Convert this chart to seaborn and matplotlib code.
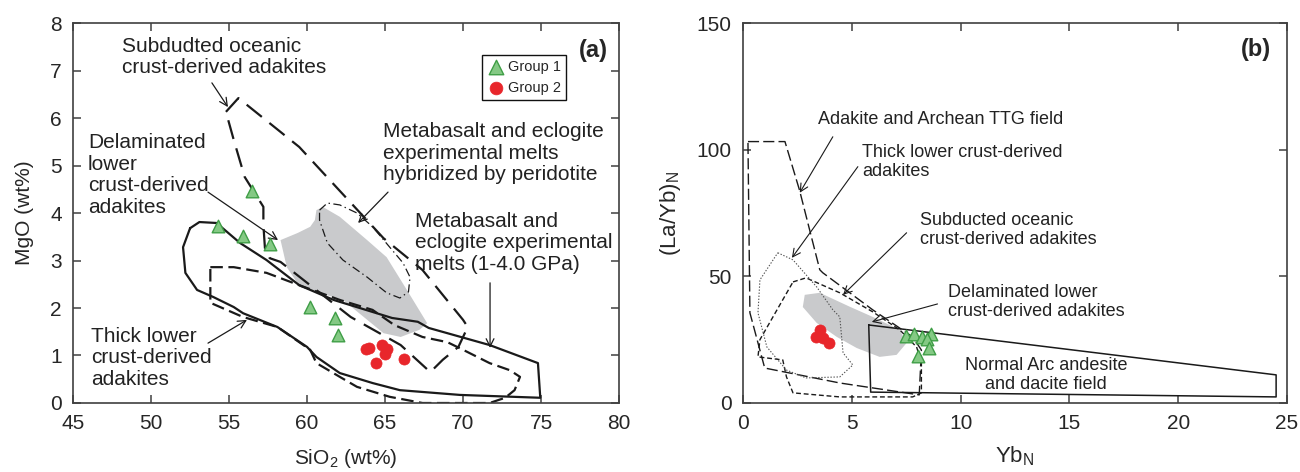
import matplotlib
matplotlib.use("Agg")
import matplotlib.pyplot as plt
import seaborn as sns
import pandas as pd

# ---------------- sample data ----------------
# (a) SiO2 vs MgO
g1_sio2 = [54.3, 56.5, 55.9, 57.6, 60.2, 61.8, 62.0]
g1_mgo = [3.72, 4.46, 3.52, 3.34, 2.03, 1.80, 1.44]
g2_sio2 = [63.8, 64.0, 64.8, 65.1, 65.0, 64.4, 66.2]
g2_mgo = [1.14, 1.16, 1.23, 1.13, 1.03, 0.84, 0.93]

# (b) YbN vs (La/Yb)N
g1_ybn = [7.5, 7.85, 8.25, 8.65, 8.45, 8.55, 8.05]
g1_layb = [26.5, 27.3, 26.1, 27.3, 25.2, 21.7, 18.6]
g2_ybn = [3.55, 3.35, 3.7, 3.95]
g2_layb = [28.9, 26.1, 25.7, 23.7]

# ---------------- discrimination fields (a) ----------------
subducted_a_x = [54.8, 55.6, 59.5, 64.9, 67.4, 70.0, 70.3, 69.7, 68.7, 67.9, 66.0,
                 62.8, 60.2, 58.3, 57.6, 57.3, 57.2, 57.2, 56.0, 55.3]
subducted_a_y = [6.13, 6.42, 5.39, 3.47, 2.80, 1.75, 1.60, 1.18, 0.91, 0.65, 1.22,
                 1.81, 2.48, 2.97, 3.05, 3.26, 3.75, 4.13, 4.76, 5.54]

thick_a_x = [53.8, 55.3, 57.4, 59.5, 62.1, 64.2, 65.6, 67.4, 69.0, 70.0, 71.7, 73.0,
             73.65, 73.3, 72.7, 71.7, 67.4, 65.3, 63.2, 62.1, 60.6, 60.2, 58.1, 55.9, 53.8]
thick_a_y = [2.86, 2.86, 2.74, 2.48, 2.17, 1.96, 1.64, 1.39, 1.28, 1.12, 0.84, 0.69,
             0.55, 0.27, 0.11, 0.0, 0.0, 0.13, 0.34, 0.55, 0.84, 1.12, 1.60, 1.81, 2.11]

melts_a_x = [52.5, 53.1, 54.2, 55.7, 57.4, 59.5, 61.7, 65.45, 67.1, 67.8, 71.7, 74.8,
             74.95, 69.8, 65.95, 64.2, 62.1, 60.6, 60.0, 58.1, 55.9, 55.3, 54.0, 52.95,
             52.2, 52.05]
melts_a_y = [3.68, 3.81, 3.79, 3.37, 3.01, 2.48, 2.17, 1.79, 1.71, 1.58, 1.22, 0.84,
             0.11, 0.17, 0.27, 0.42, 0.63, 0.97, 1.18, 1.60, 1.89, 2.02, 2.23, 2.38,
             2.74, 3.28]

hybrid_a_x = [60.8, 61.3, 62.1, 63.2, 64.2, 65.3, 66.15, 66.6, 66.5, 65.95, 65.1,
              63.85, 62.3, 61.3, 60.8]
hybrid_a_y = [4.06, 4.21, 4.17, 4.00, 3.71, 3.28, 2.95, 2.65, 2.34, 2.21, 2.32,
              2.65, 3.01, 3.37, 3.85]

delam_a_x = [58.3, 59.4, 60.2, 60.5, 60.6, 61.0, 62.1, 63.85, 65.1, 66.4, 67.7,
             67.2, 66.0, 64.9, 62.3, 59.55, 58.7]
delam_a_y = [3.43, 3.58, 3.71, 3.85, 4.06, 4.13, 3.92, 3.43, 3.07, 2.38, 1.68,
             1.54, 1.39, 1.47, 2.17, 2.44, 2.86]

# ---------------- discrimination fields (b) ----------------
ttg_b_x = [0.23, 1.93, 2.6, 3.53, 3.67, 5.96, 7.8, 8.2, 8.1, 4.45, 1.0, 0.32]
ttg_b_y = [103.2, 103.2, 84.0, 52.6, 51.4, 36.8, 26.1, 20.9, 3.2, 7.9, 13.8, 35.6]

subducted_b_x = [2.3, 2.9, 4.45, 5.96, 7.2, 7.98, 8.2, 8.2, 7.8, 4.45, 2.3, 2.0, 1.83,
                 0.69, 0.78]
subducted_b_y = [47.8, 49.4, 43.5, 36.0, 28.9, 22.1, 15.8, 4.0, 2.4, 2.4, 4.0, 10.3,
                 17.0, 18.2, 25.0]

thick_b_x = [1.6, 2.3, 3.39, 4.13, 4.45, 4.6, 5.05, 4.45, 2.9, 2.0, 1.1, 0.69, 0.78]
thick_b_y = [59.3, 56.5, 45.8, 36.8, 34.0, 19.8, 15.0, 10.3, 9.9, 13.0, 22.1, 35.6, 48.6]

delam_b_x = [2.84, 3.53, 4.91, 5.96, 7.2, 7.52, 7.06, 6.28, 5.23, 4.31, 3.39, 2.75]
delam_b_y = [42.7, 43.5, 38.0, 34.0, 28.9, 23.7, 19.0, 18.2, 21.7, 26.1, 31.6, 37.9]

arc_b_x = [5.78, 24.5, 24.5, 5.87]
arc_b_y = [30.8, 11.1, 2.4, 4.3]

# ---------------- style ----------------
sns.set_style("ticks")
plt.rcParams["font.family"] = ["Liberation Sans", "DejaVu Sans"]
plt.rcParams["mathtext.fontset"] = "custom"
plt.rcParams["mathtext.rm"] = "Liberation Sans"
plt.rcParams["lines.scale_dashes"] = False

LINE = "#1a1a1a"
SPINE = "#404040"
GREY = "#c9cacc"
TRI_FACE = "#84c984"
TRI_EDGE = "#3f9e46"
RED = "#e8262b"
TXT = "#222222"

fig = plt.figure(figsize=(13, 4.72), dpi=100)
ax_a = fig.add_axes([0.0562, 0.1462, 0.42, 0.805])
ax_b = fig.add_axes([0.5715, 0.1462, 0.4185, 0.805])


def closed(xs, ys):
    return list(xs) + [xs[0]], list(ys) + [ys[0]]


def style_axes(ax):
    for sp in ax.spines.values():
        sp.set_color(SPINE)
        sp.set_linewidth(1.2)
    ax.tick_params(direction="in", length=6, width=1.1, color=SPINE,
                   top=True, right=True, labeltop=False, labelright=False,
                   labelsize=15, pad=8)


def arrow(ax, tail, tip, lw=0.9):
    ax.annotate("", xy=tip, xytext=tail,
                arrowprops=dict(arrowstyle="->", lw=lw, color=LINE,
                                shrinkA=0, shrinkB=0, mutation_scale=14))


# ---------------- panel (a) ----------------
ax = ax_a
x, y = closed(delam_a_x, delam_a_y)
ax.fill(x, y, color=GREY, lw=0, zorder=1)
x, y = closed(subducted_a_x, subducted_a_y)
ax.plot(x, y, color=LINE, lw=1.6, dashes=(14, 7), zorder=2)
x, y = closed(thick_a_x, thick_a_y)
ax.plot(x, y, color=LINE, lw=1.6, dashes=(9, 4), zorder=2)
x, y = closed(melts_a_x, melts_a_y)
ax.plot(x, y, color=LINE, lw=1.6, zorder=2)
x, y = closed(hybrid_a_x, hybrid_a_y)
ax.plot(x, y, color=LINE, lw=0.9, dashes=(6, 2.5, 1, 2.5), zorder=2)

df1 = pd.DataFrame({"x": g1_sio2, "y": g1_mgo})
df2 = pd.DataFrame({"x": g2_sio2, "y": g2_mgo})
sns.scatterplot(data=df1, x="x", y="y", ax=ax, marker="^", s=82, color=TRI_FACE,
                edgecolor=TRI_EDGE, linewidth=1.0, label="Group 1", zorder=5)
sns.scatterplot(data=df2, x="x", y="y", ax=ax, marker="o", s=64, color=RED,
                edgecolor=RED, linewidth=0.5, label="Group 2", zorder=5)

ax.set_xlim(45, 80)
ax.set_ylim(0, 8)
ax.set_xticks(range(45, 81, 5))
ax.set_yticks(range(0, 9))
ax.set_xlabel("SiO$_\\mathregular{2}$ (wt%)", fontsize=15, labelpad=10)
ax.set_ylabel("MgO (wt%)", fontsize=15, labelpad=12)
style_axes(ax)

leg = ax.legend(loc="upper left", bbox_to_anchor=(0.749, 0.916), borderaxespad=0,
                fontsize=10.5, frameon=True, fancybox=False, framealpha=1,
                edgecolor="#111111", handletextpad=0.2, borderpad=0.35,
                labelspacing=0.45, handlelength=1.2, markerscale=1.15)
leg.get_frame().set_linewidth(1.0)

fs_a = 15
ls_a = 1.16
ax.text(48.14, 7.29, "Subdudted oceanic\ncrust-derived adakites", fontsize=fs_a,
        va="center", ha="left", linespacing=ls_a, color=TXT)
arrow(ax, (53.9, 6.74), (54.93, 6.23))
ax.text(45.96, 4.8, "Delaminated\nlower\ncrust-derived\nadakites", fontsize=fs_a,
        va="center", ha="left", linespacing=ls_a, color=TXT)
arrow(ax, (53.65, 4.44), (58.14, 3.43))
ax.text(64.87, 5.26, "Metabasalt and eclogite\nexperimental melts\nhybridized by peridotite",
        fontsize=fs_a, va="center", ha="left", linespacing=ls_a, color=TXT)
arrow(ax, (65.19, 4.44), (63.27, 3.79))
ax.text(66.92, 3.37, "Metabasalt and\neclogite experimental\nmelts (1-4.0 GPa)",
        fontsize=fs_a, va="center", ha="left", linespacing=ls_a, color=TXT)
arrow(ax, (71.73, 2.53), (71.73, 1.16))
ax.text(46.15, 0.95, "Thick lower\ncrust-derived\nadakites", fontsize=fs_a,
        va="center", ha="left", linespacing=ls_a, color=TXT)
arrow(ax, (53.65, 1.26), (56.15, 1.75))
ax.text(79.3, 7.43, "(a)", fontsize=17, fontweight="bold", ha="right", va="center")

# ---------------- panel (b) ----------------
ax = ax_b
x, y = closed(delam_b_x, delam_b_y)
ax.fill(x, y, color=GREY, lw=0, zorder=1)
x, y = closed(ttg_b_x, ttg_b_y)
ax.plot(x, y, color=LINE, lw=1.0, dashes=(8, 3), zorder=2)
x, y = closed(subducted_b_x, subducted_b_y)
ax.plot(x, y, color=LINE, lw=1.0, dashes=(3.5, 2), zorder=2)
x, y = closed(thick_b_x, thick_b_y)
ax.plot(x, y, color="#555555", lw=0.8, dashes=(1, 1.2), zorder=2)
x, y = closed(arc_b_x, arc_b_y)
ax.plot(x, y, color=LINE, lw=1.1, zorder=2)

df3 = pd.DataFrame({"x": g1_ybn, "y": g1_layb})
df4 = pd.DataFrame({"x": g2_ybn, "y": g2_layb})
sns.scatterplot(data=df3, x="x", y="y", ax=ax, marker="^", s=82, color=TRI_FACE,
                edgecolor=TRI_EDGE, linewidth=1.0, zorder=5, legend=False)
sns.scatterplot(data=df4, x="x", y="y", ax=ax, marker="o", s=64, color=RED,
                edgecolor=RED, linewidth=0.5, zorder=5, legend=False)

ax.set_xlim(0, 25)
ax.set_ylim(0, 150)
ax.set_xticks(range(0, 26, 5))
ax.set_yticks([0, 50, 100, 150])
ax.set_xlabel("Yb$_\\mathregular{N}$", fontsize=16, labelpad=8)
ax.set_ylabel("(La/Yb)$_\\mathregular{N}$", fontsize=16, labelpad=10)
style_axes(ax)

fs_b = 13
ls_b = 1.15
ax.text(3.44, 111.9, "Adakite and Archean TTG field", fontsize=fs_b,
        va="center", ha="left", color=TXT)
arrow(ax, (4.13, 105.1), (2.61, 83.0), lw=0.8)
ax.text(5.46, 95.1, "Thick lower crust-derived\nadakites", fontsize=fs_b,
        va="center", ha="left", linespacing=ls_b, color=TXT)
arrow(ax, (5.28, 93.3), (2.25, 57.3), lw=0.8)
ax.text(8.12, 68.4, "Subducted oceanic\ncrust-derived adakites", fontsize=fs_b,
        va="center", ha="left", linespacing=ls_b, color=TXT)
arrow(ax, (7.52, 67.2), (4.6, 42.7), lw=0.8)
ax.text(9.4, 39.9, "Delaminated lower\ncrust-derived adakites", fontsize=fs_b,
        va="center", ha="left", linespacing=ls_b, color=TXT)
arrow(ax, (8.94, 39.1), (5.92, 32.0), lw=0.8)
ax.text(13.94, 11.1, "Normal Arc andesite\nand dacite field", fontsize=fs_b,
        va="center", ha="center", linespacing=ls_b, color=TXT)
ax.text(24.27, 139.5, "(b)", fontsize=17, fontweight="bold", ha="right", va="center")

fig.savefig("out.png", dpi=100)
